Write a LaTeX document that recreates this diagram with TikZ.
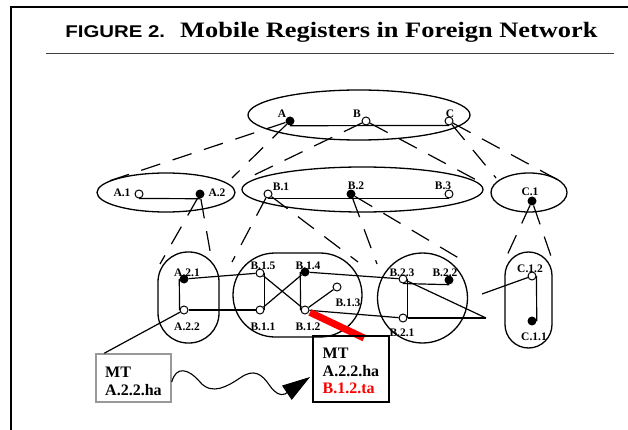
\documentclass[tikz,border=0pt]{standalone}
\usepackage{fontspec}
\usepackage{graphicx}
\setmainfont{Liberation Serif}
\newfontfamily\figsans{Liberation Sans}
\usetikzlibrary{arrows.meta,shapes.geometric}

\begin{document}
\begin{tikzpicture}[x=1pt,y=-1pt,
  hole/.style={circle, draw, fill=white, inner sep=0pt, minimum size=8pt, line width=1pt},
  dot/.style={circle, fill=black, inner sep=0pt, minimum size=9pt},
  lab/.style={font=\bfseries\fontsize{11.5}{12}\selectfont, inner sep=0pt},
  boxtxt/.style={font=\bfseries\fontsize{16}{18}\selectfont, inner sep=0pt, anchor=base west},
  cell/.style={draw, line width=1.3pt, inner sep=0pt},
  oval/.style={cell, ellipse},
  link/.style={line width=1.2pt},
  cone/.style={line width=1.2pt, dash pattern=on 20pt off 13pt},
]
\useasboundingbox (0,0) rectangle (628,430);
\fill[white] (0,0) rectangle (628,430);

% page frame and title
\draw[line width=1.2pt] (11,430) -- (11,7) -- (628,7);
\node[inner sep=0pt, anchor=base] (title) at (331.5,37.3)
  {\scalebox{1.2}[1]{\figsans\bfseries\fontsize{17}{20}\selectfont FIGURE 2.}\hspace{15pt}%
   \scalebox{1.2}[1]{\bfseries\fontsize{22}{26}\selectfont Mobile Registers in Foreign Network}};
\draw[line width=1pt, black!75] (46,54) -- (614,54);

% location areas
\node[oval, minimum width=222pt, minimum height=50pt] (topcell) at (359,115) {};
\node[oval, minimum width=138pt, minimum height=39pt] (acell) at (166,192.5) {};
\node[oval, minimum width=241pt, minimum height=45pt] (bcell) at (362.5,189.5) {};
\node[oval, minimum width=76pt, minimum height=39pt] (ccell) at (529,192.5) {};
\node[cell, rounded corners=30pt, minimum width=61pt, minimum height=91pt] (a2cell) at (188.5,297.5) {};
\node[cell, rounded corners=42pt, minimum width=129pt, minimum height=84pt] (b1cell) at (297.5,295) {};
\node[cell, circle, minimum size=90pt] (b2cell) at (422.5,298) {};
\node[cell, rounded corners=23.5pt, minimum width=47pt, minimum height=96pt] (c1cell) at (528.5,300) {};

% registers
\node[dot]  (A)   at (290,121) {};
\node[hole] (B)   at (366,121) {};
\node[hole] (C)   at (449,121) {};
\node[hole] (A1)  at (139,194) {};
\node[dot]  (A2)  at (200,194) {};
\node[hole] (B1)  at (268,194) {};
\node[dot]  (B2)  at (351,194) {};
\node[hole] (B3)  at (449,194) {};
\node[dot]  (C1)  at (532,201) {};
\node[dot]  (A21) at (184,279) {};
\node[hole] (A22) at (184,310) {};
\node[hole] (B15) at (260,273) {};
\node[dot]  (B14) at (305,272) {};
\node[hole] (B11) at (260,310) {};
\node[hole] (B12) at (305,310) {};
\node[hole] (B13) at (337,287) {};
\node[hole] (B23) at (403,279) {};
\node[dot]  (B22) at (449,280) {};
\node[hole] (B21) at (403,318) {};
\node[hole] (C12) at (532,276) {};
\node[dot]  (C11) at (532,321) {};

% free ends
\coordinate (tA1) at (103,183);
\coordinate (tA2) at (232,178);
\coordinate (tB1) at (248,178);
\coordinate (tB2) at (482,183);
\coordinate (tC1) at (496,178);
\coordinate (tC2) at (560,181);
\coordinate (tA21) at (160,264);
\coordinate (tA22) at (212,262);
\coordinate (tB11) at (232,262);
\coordinate (tB12) at (358,262);
\coordinate (tB21) at (377,264);
\coordinate (tB22) at (462,260);
\coordinate (tC11) at (504,262);
\coordinate (tC12) at (553,262);
\coordinate (pB2) at (486,318);
\coordinate (pC1) at (482,294);

% hierarchy cones
\draw[cone] (A) -- (tA1);  \draw[cone] (A) -- (tA2);
\draw[cone] (B) -- (tB1);  \draw[cone] (B) -- (tB2);
\draw[cone] (C) -- (tC1);  \draw[cone] (C) -- (tC2);
\draw[cone] (A2) -- (tA21); \draw[cone] (A2) -- (tA22);
\draw[cone] (B1) -- (tB11); \draw[cone] (B1) -- (tB12);
\draw[cone] (B2) -- (tB21); \draw[cone] (B2) -- (tB22);
\draw[cone] (C1) -- (tC11); \draw[cone] (C1) -- (tC12);

% links between registers
\draw[link] (A.south) -- (C.south);
\draw[link] (A1.south) -- (A2.south);
\draw[link] (B1.south) -- (B3.south);
\draw[link] (A21.west) -- (A22.west);
\draw[link] (A21) -- (B15);
\draw[link] (A22) -- (B11);
\draw[link] (B15.east) -- (B11.east);
\draw[link] (B14.west) -- (B12.west);
\draw[link] (B15) -- (B12);
\draw[link] (B14) -- (B11);
\draw[link] (B12) -- (B13);
\draw[link] (B14) -- (B23);
\draw[link] (B12) -- (B21);
\draw[link] (B23.south) -- (B22.south);
\draw[link] (B23.east) -- (B21.east);
\draw[link] (B23) -- (pB2);
\draw[link] (B21) -- (pB2);
\draw[link] (C12) -- (pC1);
\draw[link] (C12.east) -- (C11.east);

% labels
\node[lab] (lA)  at (282,114) {A};
\node[lab] (lB)  at (357,114) {B};
\node[lab] (lC)  at (450,114) {C};
\node[lab] (lA1) at (122,193) {A.1};
\node[lab] (lA2) at (217,193) {A.2};
\node[lab] (lB1) at (281,187) {B.1};
\node[lab] (lB2) at (356,186) {B.2};
\node[lab] (lB3) at (443,186) {B.3};
\node[lab] (lC1) at (530,192) {C.1};
\node[lab] (lA21) at (187,273) {A.2.1};
\node[lab] (lA22) at (187,327) {A.2.2};
\node[lab] (lB15) at (263,266) {B.1.5};
\node[lab] (lB14) at (308,266) {B.1.4};
\node[lab] (lB11) at (263,327) {B.1.1};
\node[lab] (lB12) at (308,327) {B.1.2};
\node[lab] (lB13) at (348,303) {B.1.3};
\node[lab] (lB23) at (402,273) {B.2.3};
\node[lab] (lB22) at (445,273) {B.2.2};
\node[lab] (lB21) at (402,333) {B.2.1};
\node[lab] (lC12) at (530,269) {C.1.2};
\node[lab] (lC11) at (534,337) {C.1.1};

% broken link
\coordinate (redend) at (364,338);
\draw[red, line width=7pt, shorten <=1pt] (B12) -- (redend);

% mobile terminal records
\node[draw=black!40, line width=1.5pt, minimum width=75pt, minimum height=48pt, inner sep=0pt] (ltbox) at (133.5,378) {};
\node[draw, line width=1.3pt, minimum width=76pt, minimum height=66pt, inner sep=0pt] (rtbox) at (351,369) {};
\node[boxtxt] (ltmt) at (105,377) {MT};
\node[boxtxt] (ltha) at (105,395) {A.2.2.ha};
\node[boxtxt] (rtmt) at (322.5,358) {MT};
\node[boxtxt] (rtha) at (322.5,376.5) {A.2.2.ha};
\node[boxtxt, text=red] (rtta) at (322.5,393.5) {B.1.2.ta};
\draw[link] (A22) -- ([xshift=9pt]ltbox.north west);

% record transfer
\coordinate (wavetip) at (310,377);
\draw[line width=1.1pt, -{Triangle[length=28pt,width=17pt]}]
  ([yshift=-4pt]ltbox.east) .. controls (176,366) and (188,368) .. (200,382)
  .. controls (212,396) and (228,386) .. (240,378)
  .. controls (254,368) and (262,374) .. (270,386)
  .. controls (275,393) and (280,396) .. (285,394) -- (wavetip);
\end{tikzpicture}
\end{document}
